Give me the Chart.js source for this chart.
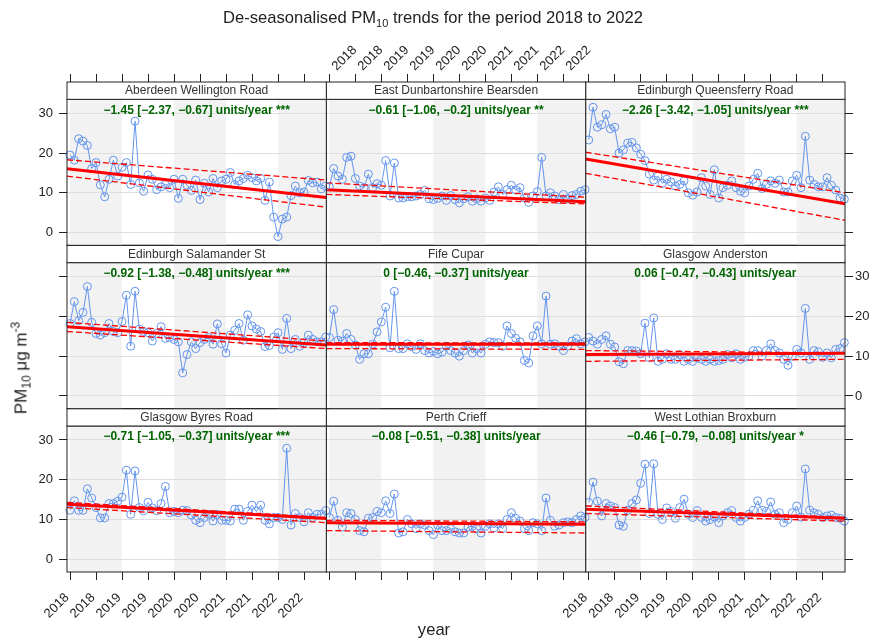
<!DOCTYPE html>
<html>
<head>
<meta charset="utf-8">
<title>De-seasonalised PM10 trends 2018 to 2022</title>
<script src="https://cdn.jsdelivr.net/npm/chart.js@4.4.1/dist/chart.umd.min.js"></script>
<style>
  html, body { margin: 0; padding: 0; background: #fff; }
  #wrap { position: relative; width: 876px; height: 641px; overflow: hidden;
          font-family: "Liberation Sans", Arial, Helvetica, sans-serif; color: #222; }
  #wrap canvas { position: absolute; left: 0; top: 0; }
  .txt { position: absolute; white-space: nowrap; font-size: 16.6px; line-height: 1; }
  .txt sub, .txt sup { font-size: 11px; line-height: 0; }
  #title { left: 433px; top: 18px; transform: translate(-50%, -50%); }
  #xlab { left: 434px; top: 630px; transform: translate(-50%, -50%); }
  #ylab { left: 21px; top: 368px; font-size: 17px; transform: translate(-50%, -50%) rotate(-90deg); }
  #ylab sub, #ylab sup { font-size: 12px; }
</style>
</head>
<body>
<div id="wrap">
  <div class="txt" id="title">De-seasonalised PM<sub>10</sub> trends for the period 2018 to 2022</div>
  <div class="txt" id="xlab">year</div>
  <div class="txt" id="ylab">PM<sub>10</sub> μg m<sup>-3</sup></div>
</div>
<script>
// monitoring sites, one panel each (row by row)
const SITES = [
  'Aberdeen Wellington Road', 'East Dunbartonshire Bearsden', 'Edinburgh Queensferry Road',
  'Edinburgh Salamander St', 'Fife Cupar', 'Glasgow Anderston',
  'Glasgow Byres Road', 'Perth Crieff', 'West Lothian Broxburn'
];

// Theil-Sen slope with its interval and significance stars
const SLOPE = [-1.45, -0.61, -2.26, -0.92, 0, 0.06, -0.71, -0.08, -0.46];
const SLOPE_LO = [-2.37, -1.06, -3.42, -1.38, -0.46, -0.47, -1.05, -0.51, -0.79];
const SLOPE_HI = [-0.67, -0.2, -1.05, -0.48, -0.37, -0.43, -0.37, -0.38, -0.08];
const STARS = ['***', '**', '***', '***', '', '', '***', '', '*'];

// trend level at the left edge of each panel
const TREND_START = [16.05, 10.8, 18.5, 17.4, 13.0, 10.4, 13.8, 9.2, 12.6];
// dashed interval lines, [left, right]
const BAND_UPPER = [[18.3, 13.2], [12.5, 8.9], [20.2, 10.0], [18.5, 13.8], [13.4, 13.3],
                    [11.4, 10.8], [14.3, 10.5], [9.8, 9.4], [13.4, 10.5]];
const BAND_LOWER = [[14.2, 6.4], [9.6, 7.2], [14.9, 3.1], [16.2, 11.9], [11.9, 11.7],
                    [8.7, 9.2], [13.0, 9.2], [7.2, 6.6], [11.5, 9.6]];

// monthly de-seasonalised PM10, Jan 2018 .. Dec 2022
const ABERDEEN = [19.5, 18.2, 23.6, 23.0, 21.9, 16.1, 17.6, 12.0, 9.0, 13.4,
  18.2, 14.2, 16.4, 17.6, 12.1, 28.0, 12.5, 10.4, 14.5, 13.4,
  10.8, 11.5, 12.1, 11.3, 13.4, 8.6, 13.4, 11.9, 10.6, 13.2,
  8.3, 12.4, 10.2, 13.6, 11.3, 13.0, 13.4, 15.1, 12.1, 13.0,
  13.6, 14.4, 13.8, 13.0, 13.6, 8.1, 12.7, 3.9, -1.0, 3.4,
  3.9, 9.3, 11.7, 10.0, 10.2, 13.1, 12.5, 12.7, 11.0, 11.7];
const BEARSDEN = [11.5, 16.1, 14.2, 13.4, 18.9, 19.2, 13.6, 11.7, 11.3, 14.7,
  11.3, 12.3, 11.9, 18.1, 9.2, 17.5, 8.7, 8.7, 9.0, 9.0,
  9.2, 9.6, 10.6, 8.5, 8.3, 8.6, 9.2, 8.1, 9.3, 8.3,
  7.5, 8.5, 9.0, 7.9, 8.5, 7.9, 8.7, 8.1, 10.2, 11.5,
  9.6, 10.8, 11.9, 10.7, 11.3, 8.7, 7.6, 9.2, 10.3, 18.9,
  9.2, 10.0, 9.2, 8.3, 9.6, 8.5, 9.3, 9.6, 10.4, 10.8];
const QUEENSFERRY = [23.3, 31.5, 26.5, 27.1, 29.7, 26.1, 26.5, 20.0, 20.8, 22.5,
  22.7, 21.3, 19.7, 18.1, 14.7, 13.2, 14.2, 12.4, 13.4, 12.7,
  11.7, 12.1, 13.0, 10.0, 9.4, 10.2, 13.8, 11.7, 9.6, 15.8,
  8.7, 11.3, 11.9, 13.0, 11.3, 10.4, 10.0, 11.7, 13.4, 14.9,
  11.1, 12.1, 13.0, 12.4, 13.2, 10.2, 10.2, 13.0, 14.4, 11.3,
  24.2, 13.2, 12.1, 11.5, 11.5, 13.8, 11.9, 10.7, 8.7, 8.4];
const SALAMANDER = [18.2, 23.7, 18.9, 21.0, 27.5, 18.5, 15.7, 15.3, 15.9, 18.2,
  16.2, 15.9, 18.7, 25.3, 12.5, 26.3, 16.8, 16.2, 15.9, 13.8,
  15.7, 17.4, 14.5, 14.7, 14.2, 13.6, 5.8, 10.4, 13.6, 11.9,
  13.4, 14.2, 14.7, 13.0, 18.1, 13.1, 10.8, 15.3, 16.5, 18.2,
  14.0, 20.4, 17.6, 16.8, 16.2, 12.4, 12.7, 14.8, 15.9, 11.7,
  19.5, 11.9, 14.2, 12.5, 13.4, 15.3, 14.2, 13.6, 13.6, 14.8];
const CUPAR = [14.7, 21.7, 14.0, 13.8, 15.7, 14.2, 12.8, 9.2, 10.6, 10.6,
  13.0, 16.1, 18.6, 22.3, 12.1, 26.3, 11.9, 11.9, 13.1, 12.4,
  11.7, 13.1, 11.4, 10.8, 11.2, 10.6, 11.0, 12.5, 11.4, 10.8,
  10.0, 11.4, 12.8, 10.8, 11.9, 10.8, 13.0, 13.6, 13.4, 13.4,
  12.5, 17.6, 15.7, 14.5, 13.6, 8.9, 8.3, 15.1, 17.6, 13.1,
  25.1, 13.0, 13.1, 12.5, 11.4, 12.5, 13.8, 14.4, 13.1, 13.6];
const ANDERSTON = [14.7, 13.8, 13.0, 14.2, 15.1, 13.0, 12.3, 8.6, 8.1, 11.4,
  11.4, 11.3, 10.6, 18.3, 9.6, 19.6, 8.7, 9.2, 10.6, 9.2,
  9.2, 10.4, 8.7, 9.2, 8.7, 9.6, 9.2, 8.7, 9.2, 8.7,
  8.9, 9.2, 10.4, 9.6, 10.6, 9.2, 9.7, 10.0, 11.4, 11.4,
  10.0, 11.4, 13.1, 11.4, 10.8, 9.2, 7.7, 10.0, 11.7, 10.8,
  22.0, 9.2, 11.4, 11.1, 9.7, 10.8, 9.6, 11.7, 11.9, 13.4];
const BYRES = [12.3, 14.7, 12.3, 12.3, 17.7, 15.4, 13.0, 10.4, 10.4, 14.0,
  14.0, 14.6, 15.6, 22.4, 11.3, 22.2, 13.0, 12.2, 14.3, 12.9,
  12.2, 14.0, 18.3, 11.7, 12.0, 11.7, 12.3, 12.2, 11.1, 9.8,
  9.2, 10.5, 11.3, 9.6, 11.3, 9.8, 9.8, 9.6, 12.6, 12.6,
  9.8, 12.0, 13.6, 12.0, 13.6, 9.8, 8.9, 10.5, 10.5, 10.0,
  27.9, 8.6, 11.5, 10.5, 9.4, 11.7, 10.5, 11.3, 11.3, 12.2];
const CRIEFF = [10.5, 14.6, 9.8, 8.1, 11.7, 11.5, 10.0, 7.2, 6.9, 10.3,
  10.5, 12.0, 11.7, 14.7, 11.5, 16.4, 6.6, 6.9, 10.0, 8.9,
  7.7, 8.9, 8.6, 7.2, 6.2, 8.6, 7.2, 7.2, 7.7, 6.9,
  6.6, 6.6, 8.1, 8.3, 7.7, 6.6, 8.3, 8.9, 7.9, 8.9,
  7.7, 10.0, 11.7, 10.3, 9.6, 7.7, 7.2, 9.2, 8.9, 7.2,
  15.4, 9.8, 8.3, 8.6, 9.2, 9.4, 9.2, 10.0, 10.9, 10.5];
const BROXBURN = [14.3, 19.4, 14.6, 10.9, 14.0, 13.4, 13.0, 8.6, 8.3, 12.3,
  14.0, 14.9, 19.1, 23.9, 11.5, 24.0, 11.3, 10.0, 12.9, 12.0,
  10.3, 13.0, 15.1, 11.3, 10.5, 12.2, 10.5, 9.6, 10.0, 10.6,
  9.2, 10.9, 11.7, 12.2, 10.5, 9.6, 10.5, 11.3, 12.3, 14.7,
  12.3, 12.0, 14.4, 11.3, 11.7, 9.2, 10.0, 11.7, 13.4, 10.6,
  22.7, 12.3, 11.7, 11.3, 10.5, 10.9, 11.1, 10.5, 10.3, 9.6];
const SERIES = [ABERDEEN, BEARSDEN, QUEENSFERRY, SALAMANDER, CUPAR, ANDERSTON, BYRES, CRIEFF, BROXBURN];

// axis ticks: Jan and Jul of each year, labelled with the year
const TICK_YEARS = [2018, 2018.5, 2019, 2019.5, 2020, 2020.5, 2021, 2021.5, 2022, 2022.5];
const TICK_LABELS = ['2018', '2018', '2019', '2019', '2020', '2020', '2021', '2021', '2022', '2022'];
const Y_TICKS = [0, 10, 20, 30];
const SHADED_YEARS = [2018, 2020, 2022];

// month positions as decimal years
const MONTHS = SERIES[0].map((_, i) => 2018 + i / 12);

// page geometry
const W = 876, H = 641;
const COL_EDGES = [67, 326.33, 585.67, 845];
const ROW_EDGES = [82, 245.33, 408.67, 572];
const STRIP_H = 17.33;
const X_MIN = 2017.942, X_MAX = 2022.929;
const Y_MIN = -3.2, Y_MAX = 33.5;
const TICK_LEN = 8;
// fixed room reserved for each axis so the plot areas line up exactly
const AX_LEFT = 40, AX_RIGHT = 30, AX_TOP = 60, AX_BOTTOM = 55;
const FONT = '"Liberation Sans", Arial, Helvetica, sans-serif';

Chart.defaults.font.family = FONT;

function fmt(v) { return String(v).replace('-', '\u2212'); }

const panelDecor = {
  id: 'panelDecor',
  beforeDraw(chart) {
    const { ctx, chartArea: a, scales: { x } } = chart;
    ctx.save();
    ctx.fillStyle = '#f2f2f2';
    SHADED_YEARS.forEach(yr => {
      const x0 = Math.max(a.left, x.getPixelForValue(yr));
      const x1 = Math.min(a.right, x.getPixelForValue(yr + 1));
      if (x1 > x0) ctx.fillRect(x0, a.top, x1 - x0, a.bottom - a.top);
    });
    ctx.restore();
  },
  afterDraw(chart, args, opts) {
    const { ctx, chartArea: a } = chart;
    const cx = (a.left + a.right) / 2;
    ctx.save();
    ctx.strokeStyle = '#222';
    ctx.lineWidth = 1;
    ctx.strokeRect(a.left, a.top, a.right - a.left, a.bottom - a.top);
    // strip with the site name
    ctx.fillStyle = '#fff';
    ctx.fillRect(a.left, a.top - STRIP_H, a.right - a.left, STRIP_H);
    ctx.strokeRect(a.left, a.top - STRIP_H, a.right - a.left, STRIP_H);
    ctx.fillStyle = '#333';
    ctx.font = '12px ' + FONT;
    ctx.textAlign = 'center';
    ctx.textBaseline = 'middle';
    ctx.fillText(opts.site, cx, a.top - STRIP_H / 2 + 0.5);
    // slope annotation
    ctx.fillStyle = '#006400';
    ctx.font = 'bold 12px ' + FONT;
    ctx.fillText(opts.note, cx, a.top + 11);
    ctx.restore();
  }
};

function buildConfig(k) {
  const col = k % 3, row = Math.floor(k / 3);
  const left = COL_EDGES[col], right = COL_EDGES[col + 1];
  const top = ROW_EDGES[row] + STRIP_H, bottom = ROW_EDGES[row + 1];
  const tickFont = { size: 13 };
  const xTicks = s => { s.ticks = TICK_YEARS.map(v => ({ value: v })); };
  const yTicks = s => { s.ticks = Y_TICKS.map(v => ({ value: v })); };
  const trendEnd = TREND_START[k] + SLOPE[k] * (X_MAX - X_MIN);
  const note = fmt(SLOPE[k]) + ' [' + fmt(SLOPE_LO[k]) + ', ' + fmt(SLOPE_HI[k]) + '] units/year' +
               (STARS[k] ? ' ' + STARS[k] : '');

  return {
    type: 'line',
    data: {
      datasets: [
        {
          data: [{ x: X_MIN, y: TREND_START[k] }, { x: X_MAX, y: trendEnd }],
          borderColor: '#ff0000', borderWidth: 3, pointRadius: 0, order: 0
        },
        {
          data: [{ x: X_MIN, y: BAND_UPPER[k][0] }, { x: X_MAX, y: BAND_UPPER[k][1] }],
          borderColor: '#ff0000', borderWidth: 1.3, borderDash: [6, 3], pointRadius: 0, order: 1
        },
        {
          data: [{ x: X_MIN, y: BAND_LOWER[k][0] }, { x: X_MAX, y: BAND_LOWER[k][1] }],
          borderColor: '#ff0000', borderWidth: 1.3, borderDash: [6, 3], pointRadius: 0, order: 1
        },
        {
          data: MONTHS.map((t, i) => ({ x: t, y: SERIES[k][i] })),
          borderColor: '#6495ed', borderWidth: 1, tension: 0,
          pointRadius: 4, pointBorderWidth: 1, pointBorderColor: '#6495ed',
          pointBackgroundColor: 'rgba(0,0,0,0)', clip: false, order: 3
        }
      ]
    },
    options: {
      responsive: false,
      animation: false,
      events: [],
      layout: { padding: { left: left - AX_LEFT, right: W - right - AX_RIGHT,
                           top: top - AX_TOP, bottom: H - bottom - AX_BOTTOM } },
      plugins: {
        legend: { display: false },
        tooltip: { enabled: false },
        panelDecor: { site: SITES[k], note: note }
      },
      scales: {
        x: {
          type: 'linear', position: 'bottom', min: X_MIN, max: X_MAX,
          afterBuildTicks: xTicks, afterFit: s => { s.height = AX_BOTTOM; },
          border: { display: false },
          grid: { drawOnChartArea: false, drawTicks: row === 2, tickLength: TICK_LEN, tickColor: '#222' },
          ticks: { display: row === 2 && col !== 1, autoSkip: false, minRotation: 45, maxRotation: 45,
                   padding: 10, labelOffset: -3, color: '#222', font: tickFont,
                   callback: (v, i) => TICK_LABELS[i] }
        },
        xTop: {
          type: 'linear', position: 'top', min: X_MIN, max: X_MAX,
          afterBuildTicks: xTicks, afterFit: s => { s.height = AX_TOP; },
          border: { display: false },
          grid: { drawOnChartArea: false, drawTicks: row === 0, tickLength: TICK_LEN + STRIP_H, tickColor: '#222' },
          ticks: { display: row === 0 && col === 1, autoSkip: false, minRotation: 45, maxRotation: 45,
                   padding: 0, labelOffset: 16, color: '#222', font: tickFont,
                   callback: (v, i) => TICK_LABELS[i] }
        },
        y: {
          type: 'linear', position: 'left', min: Y_MIN, max: Y_MAX,
          afterBuildTicks: yTicks, afterFit: s => { s.width = AX_LEFT; },
          border: { display: false },
          grid: { drawOnChartArea: true, color: '#dedede', drawTicks: col === 0, tickLength: TICK_LEN, tickColor: '#222' },
          ticks: { display: col === 0 && row !== 1, padding: 6, color: '#222', font: tickFont }
        },
        yRight: {
          type: 'linear', position: 'right', min: Y_MIN, max: Y_MAX,
          afterBuildTicks: yTicks, afterFit: s => { s.width = AX_RIGHT; },
          border: { display: false },
          grid: { drawOnChartArea: false, drawTicks: col === 2, tickLength: TICK_LEN, tickColor: '#222' },
          ticks: { display: col === 2 && row === 1, padding: 2, color: '#222', font: tickFont }
        }
      }
    },
    plugins: [panelDecor]
  };
}

const wrap = document.getElementById('wrap');
SITES.forEach((site, k) => {
  const cv = document.createElement('canvas');
  cv.width = W;
  cv.height = H;
  wrap.insertBefore(cv, wrap.firstChild);
  new Chart(cv, buildConfig(k));
});
</script>
</body>
</html>
